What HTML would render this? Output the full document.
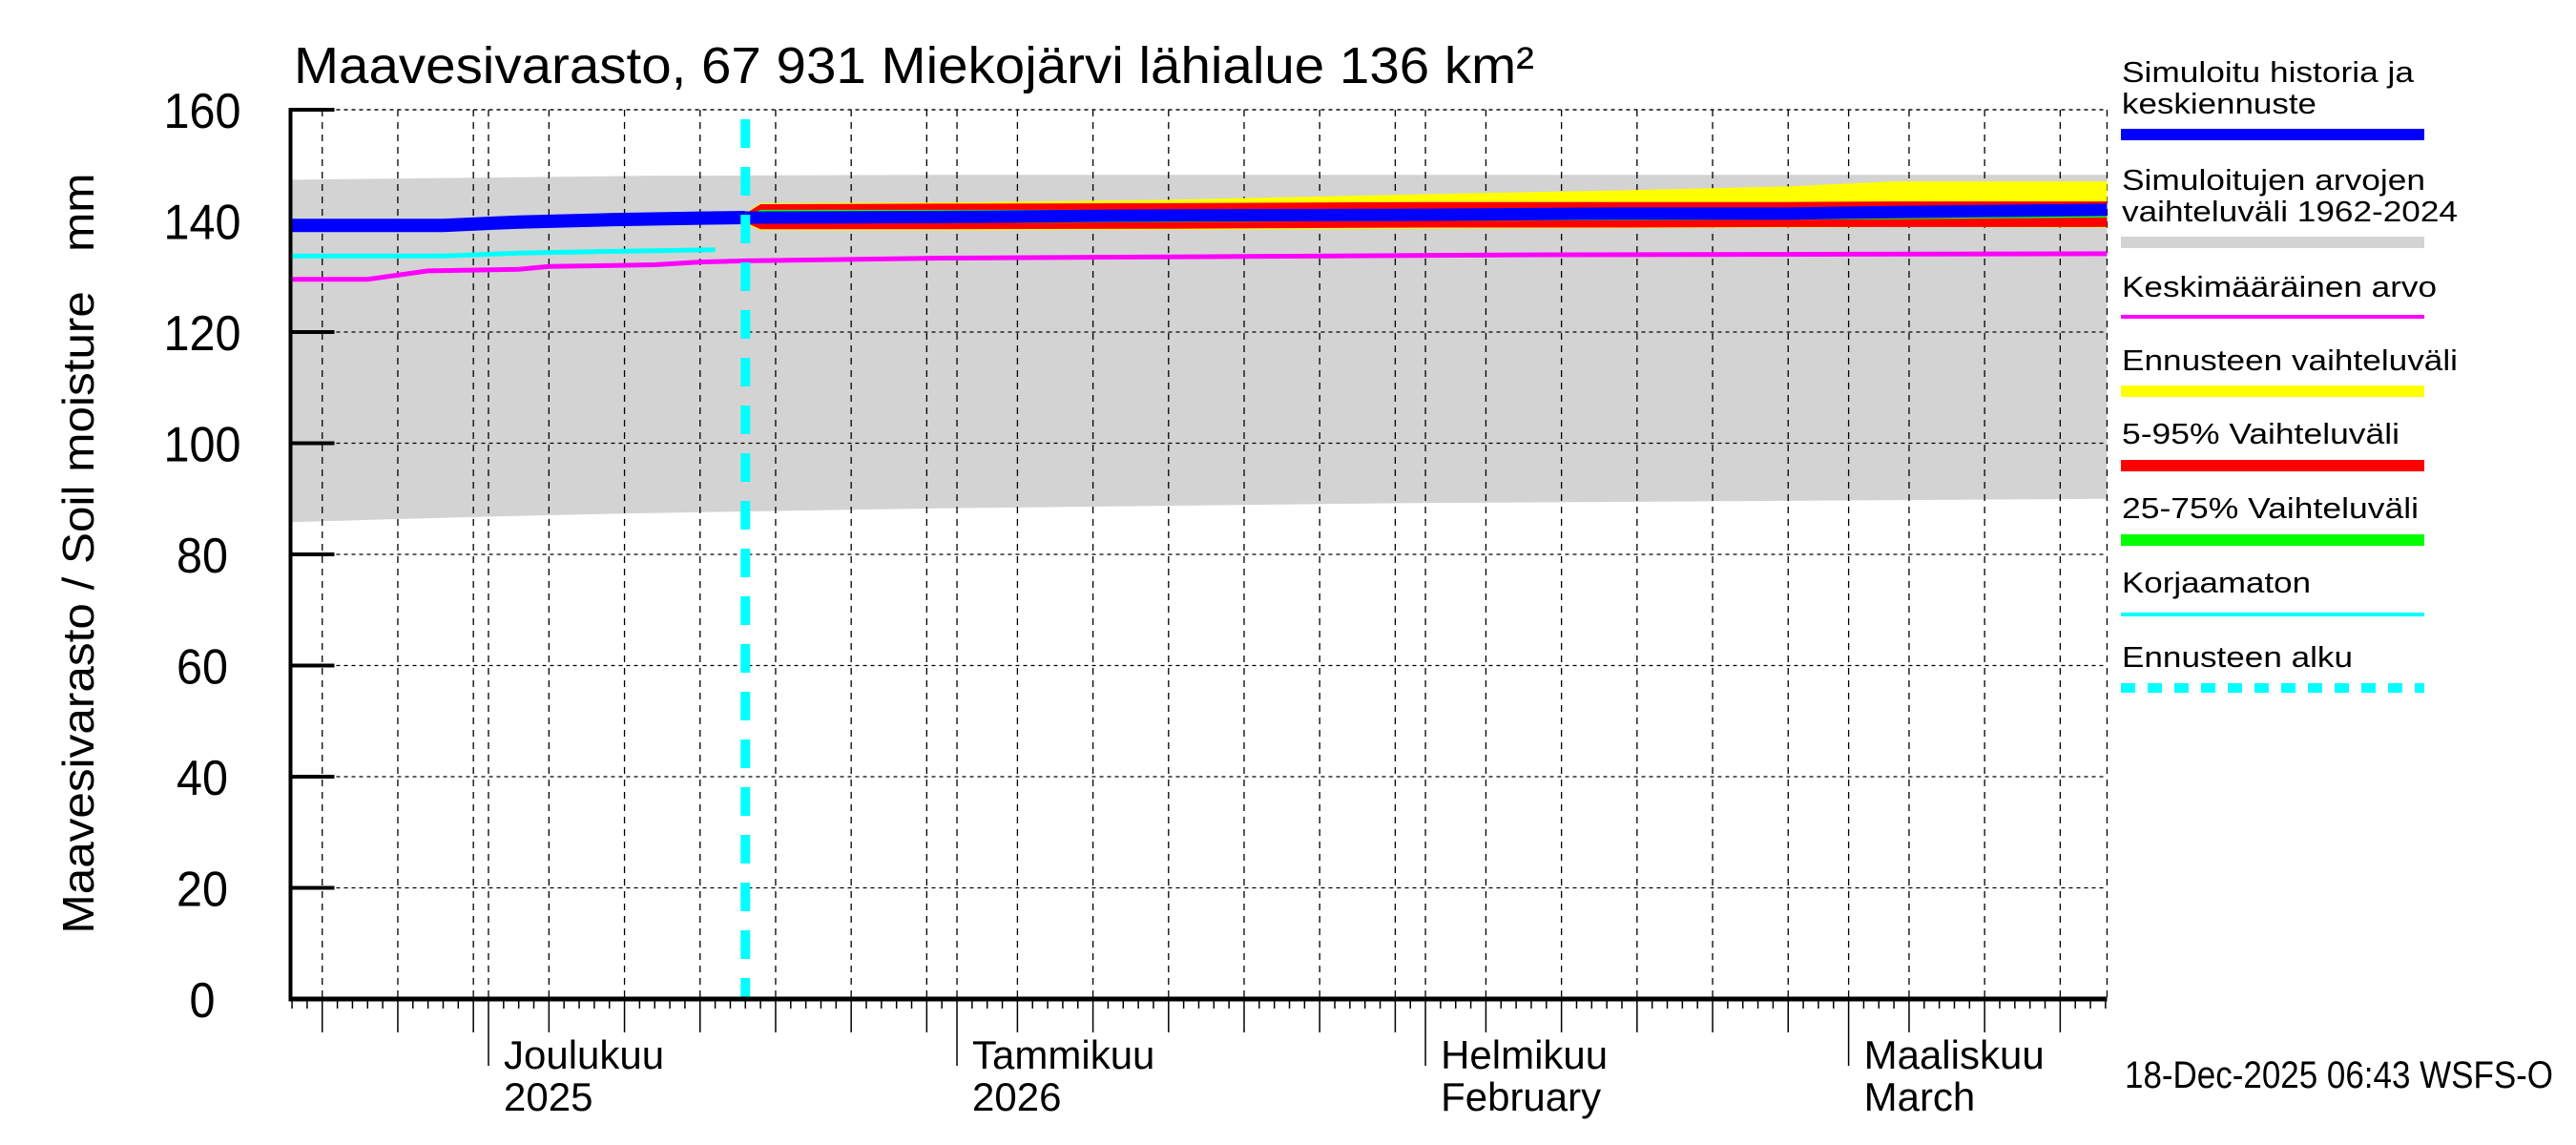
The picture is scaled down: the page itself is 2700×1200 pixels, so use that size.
<!DOCTYPE html>
<html><head><meta charset="utf-8">
<style>
html,body{margin:0;padding:0;background:#fff;}
svg{display:block;}
text{font-family:"Liberation Sans",sans-serif;fill:#000;}
</style></head>
<body>
<svg id="chart" width="2700" height="1200" viewBox="0 0 2700 1200" xmlns="http://www.w3.org/2000/svg">
  <text x="308" y="87" font-size="54" textLength="1300" lengthAdjust="spacingAndGlyphs">Maavesivarasto, 67 931 Miekojärvi lähialue 136 km²</text>
  <text transform="translate(98,580) rotate(-90)" text-anchor="middle" font-size="46" textLength="797" lengthAdjust="spacingAndGlyphs" xml:space="preserve">Maavesivarasto / Soil moisture &#160; mm</text>
  <g id="plot"></g>
  <g id="legend"></g>
  <text x="2227" y="1140" font-size="40" textLength="449" lengthAdjust="spacingAndGlyphs">18-Dec-2025 06:43 WSFS-O</text>
</svg>
<script>
// ---- data (days since 1 Dec 2025) ----
const bandDays = [-13.1, 0, 10, 30, 60, 107.1];
const bandHi = [147.4, 147.8, 148.1, 148.3, 148.3, 148.3];
const bandLo = [85.8, 86.8, 87.4, 88.3, 89.2, 90.0];
const histDays = [-13.1, -3, 2, 8, 14, 17];
const blueHist = [139.2, 139.2, 139.8, 140.2, 140.5, 140.6];
const cyanDays = [-13.1, -3, 2, 8, 15];
const cyanVals = [133.7, 133.7, 134.2, 134.5, 134.8];
const meanDays = [-13.1, -8, -4, 2, 4, 11, 14, 17, 30, 50, 70, 90, 107.1];
const meanVals = [129.5, 129.5, 131, 131.3, 131.8, 132.1, 132.6, 132.8, 133.3, 133.6, 133.9, 134.0, 134.1];
const fcDays = [17, 18, 30, 45, 62, 75, 86, 93, 107.1];
const blueFc = [140.6, 140.6, 140.7, 141.0, 141.1, 141.3, 141.3, 141.6, 142.0];
const yellowHi = [141.5, 143.2, 143.3, 143.8, 144.8, 145.5, 146.2, 147.1, 147.1];
const yellowLo = [139.5, 138.3, 138.3, 138.4, 138.6, 138.7, 138.8, 138.9, 138.8];
const redHi = [141.3, 143.0, 143.1, 143.2, 143.4, 143.4, 143.4, 143.5, 143.5];
const redLo = [139.7, 138.5, 138.5, 138.6, 138.8, 138.8, 138.9, 138.9, 138.9];
const greenHi = [141.0, 142.0, 142.0, 142.0, 142.1, 142.1, 142.1, 142.2, 142.3];
const greenLo = [140.0, 139.6, 139.6, 139.8, 140.0, 140.1, 140.2, 140.3, 140.6];
const forecastStartDay = 17;
const yTicks = [0, 20, 40, 60, 80, 100, 120, 140, 160];
const monthStarts = [-30, 0, 31, 62, 90];
const monthLabels = [["", ""], ["Joulukuu", "2025"], ["Tammikuu", "2026"], ["Helmikuu", "February"], ["Maaliskuu", "March"]];
const monthLens = [30, 31, 31, 28, 31];

// ---- axes ----
const X0 = 512, PXD = 15.84, DMIN = -13.1, DMAX = 107.1;
const Y0 = 1047, PXV = 5.825;
function xs(d){ return X0 + d * PXD; }
function ys(v){ return Y0 - v * PXV; }
const L = xs(DMIN), R = xs(DMAX), T = ys(160);
const NS = "http://www.w3.org/2000/svg";
const plot = document.getElementById('plot');
function mk(tag, attrs, parent){
  const e = document.createElementNS(NS, tag);
  for (const k in attrs) e.setAttribute(k, attrs[k]);
  (parent || plot).appendChild(e);
  return e;
}
function bandPath(days, hi, lo){
  let p = '';
  days.forEach((d,i)=>{ p += (i? 'L':'M') + xs(d).toFixed(1) + ',' + ys(hi[i]).toFixed(1); });
  for (let i = days.length-1; i >= 0; i--) p += 'L' + xs(days[i]).toFixed(1) + ',' + ys(lo[i]).toFixed(1);
  return p + 'Z';
}
function linePath(days, vals){
  return days.map((d,i)=>(i?'L':'M') + xs(d).toFixed(1) + ',' + ys(vals[i]).toFixed(1)).join('');
}

const gb = mk('path', {d: bandPath(bandDays, bandHi, bandLo), fill: '#d3d3d3'});



yTicks.forEach(v => {
  if (v === 0) return;
  const g = mk('line', {x1: L, x2: R, y1: ys(v), y2: ys(v), stroke: '#000', 'stroke-width': 1.3, 'stroke-dasharray': '4,4'});
  
  
  const tk = mk('line', {x1: L, x2: L + 46, y1: ys(v), y2: ys(v), stroke: '#000', 'stroke-width': 4});
  
  
});
yTicks.forEach(v => {
  const s = String(v);
  const t = mk('text', {x: 212, y: ys(v) + 19, 'font-size': 52, 'text-anchor': 'middle', textLength: s.length * 27, lengthAdjust: 'spacingAndGlyphs'});
  t.textContent = s;
  
  
});

monthStarts.forEach((ms, mi) => {
  for (let day = 0; day < monthLens[mi]; day++) {
    const d = ms + day;
    if (d < DMIN || d > DMAX) continue;
    const x = xs(d);
    const dom = day + 1;
    const isMonth = dom === 1;
    const isFive = dom % 5 === 0;
    if (isMonth || isFive) {
      const g = mk('line', {x1: x, x2: x, y1: T, y2: Y0, stroke: '#000', 'stroke-width': 1.3, 'stroke-dasharray': '7,6'});
      
      
    }
    const len = isMonth ? 70 : (isFive ? 35 : 10);
    const tk = mk('line', {x1: x, x2: x, y1: Y0, y2: Y0 + len, stroke: '#000', 'stroke-width': 1.5});
    
    
  }
  if (monthLabels[mi][0] && ms >= DMIN) {
    const t1 = mk('text', {x: xs(ms) + 16, y: 1120, 'font-size': 42});
    t1.textContent = monthLabels[mi][0];
    
    
    const t2 = mk('text', {x: xs(ms) + 16, y: 1164, 'font-size': 42});
    t2.textContent = monthLabels[mi][1];
    
    
  }
});
const tb = mk('line', {x1: L, x2: R, y1: T, y2: T, stroke: '#000', 'stroke-width': 1.3, 'stroke-dasharray': '4,4'});


const rb = mk('line', {x1: R, x2: R, y1: T, y2: Y0, stroke: '#000', 'stroke-width': 1.3, 'stroke-dasharray': '7,6'});



const yb = mk('path', {d: bandPath(fcDays, yellowHi, yellowLo), fill: '#ffff00'});


const rdb = mk('path', {d: bandPath(fcDays, redHi, redLo), fill: '#ff0000'});


const grb = mk('path', {d: bandPath(fcDays, greenHi, greenLo), fill: '#00ff00'});



const ml = mk('path', {d: linePath(meanDays, meanVals), fill: 'none', stroke: '#ff00ff', 'stroke-width': 5});


const cl = mk('path', {d: linePath(cyanDays, cyanVals), fill: 'none', stroke: '#00ffff', 'stroke-width': 5});


const bl = mk('path', {d: linePath(histDays, blueHist), fill: 'none', stroke: '#0000ff', 'stroke-width': 14});


const bf = mk('path', {d: linePath(fcDays, blueFc), fill: 'none', stroke: '#0000ff', 'stroke-width': 13});



const fs = mk('line', {x1: xs(forecastStartDay), x2: xs(forecastStartDay), y1: 125, y2: Y0, stroke: '#00ffff', 'stroke-width': 10, 'stroke-dasharray': '30,20'});



const la = mk('line', {x1: L, x2: L, y1: T - 2, y2: Y0 + 2, stroke: '#000', 'stroke-width': 4});


const ba = mk('line', {x1: L - 2, x2: R, y1: Y0, y2: Y0, stroke: '#000', 'stroke-width': 5});



// ---- legend ----
const legend = document.getElementById('legend');
const legItems = [
  {t: ["Simuloitu historia ja", "keskiennuste"], tw: [306, 204], c: '#0000ff', w: 12, ly: 141, ty: [86, 119], n: 'legend-simulated-history'},
  {t: ["Simuloitujen arvojen", "vaihteluväli 1962-2024"], tw: [318, 352], c: '#d3d3d3', w: 12, ly: 254, ty: [199, 232], n: 'legend-historical-range'},
  {t: ["Keskimääräinen arvo"], tw: [330], c: '#ff00ff', w: 4, ly: 332, ty: [311], n: 'legend-mean'},
  {t: ["Ennusteen vaihteluväli"], tw: [352], c: '#ffff00', w: 12, ly: 410, ty: [388], n: 'legend-forecast-range'},
  {t: ["5-95% Vaihteluväli"], tw: [291], c: '#ff0000', w: 12, ly: 488, ty: [465], n: 'legend-5-95'},
  {t: ["25-75% Vaihteluväli"], tw: [311], c: '#00ff00', w: 12, ly: 566, ty: [543], n: 'legend-25-75'},
  {t: ["Korjaamaton"], tw: [198], c: '#00ffff', w: 4, ly: 644, ty: [621], n: 'legend-uncorrected'},
  {t: ["Ennusteen alku"], tw: [242], c: '#00ffff', w: 10, ly: 721, ty: [699], n: 'legend-forecast-start', dash: '15,13'}
];
legItems.forEach(it => {
  const g = mk('g', {}, legend);
  
  
  it.t.forEach((s, i) => {
    const tx = mk('text', {x: 2224, y: it.ty[i], 'font-size': 31, 'font-family': '"DejaVu Sans", sans-serif', textLength: it.tw[i], lengthAdjust: 'spacingAndGlyphs'}, g);
    tx.textContent = s;
  });
  const a = {x1: 2223, x2: 2541, y1: it.ly, y2: it.ly, stroke: it.c, 'stroke-width': it.w};
  if (it.dash) a['stroke-dasharray'] = it.dash;
  mk('line', a, g);
});
</script>
</body></html>
